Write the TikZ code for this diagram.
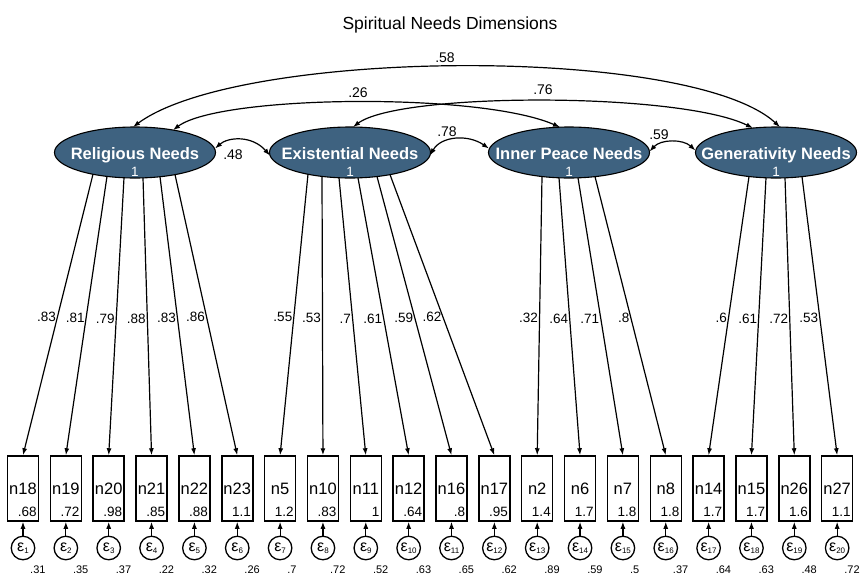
\documentclass[tikz,border=0pt]{standalone}
\usepackage{fontspec}
\setmainfont{Liberation Sans}
\usetikzlibrary{arrows.meta,calc,shapes.geometric}
\definecolor{latfill}{RGB}{62,98,128}
\newcommand{\fsz}[1]{\fontsize{#1}{#1}\selectfont}
\begin{document}
\begin{tikzpicture}[x=1pt,y=-1pt,
  lat/.style={ellipse,draw=black,line width=1.1pt,fill=latfill,minimum width=161pt,minimum height=51pt,inner sep=0pt},
  latname/.style={text=white,font=\fsz{16.5}\bfseries,anchor=base,inner sep=0pt},
  latone/.style={text=white,font=\fsz{13.5},anchor=base,inner sep=0pt},
  obs/.style={draw=black,line width=1.5pt,minimum width=31pt,minimum height=65pt,inner sep=0pt,font=\fsz{16.5}},
  val/.style={font=\fsz{13.5},anchor=base east,inner sep=0pt},
  err/.style={circle,draw=black,line width=1.3pt,minimum size=23.5pt,inner sep=0pt},
  evar/.style={font=\fsz{11},anchor=base west,inner sep=0pt},
  arr/.style={line width=1.2pt,-{Latex[length=7pt,width=5pt]}},
  cov/.style={line width=1.2pt,{Latex[length=7pt,width=5pt]}-{Latex[length=7pt,width=5pt]}},
  lbl/.style={font=\fsz{13.5},inner sep=1pt,anchor=east},
  clbl/.style={font=\fsz{14},inner sep=0pt}
]
\useasboundingbox (0,0) rectangle (861,576);

\node[font=\fsz{17.5}] (title) at (450,25) {Spiritual Needs Dimensions};

% latent variables
\node[lat] (rel) at (135,152.5) {};
\node[lat] (ex)  at (350,152.5) {};
\node[lat] (ip)  at (569,152.5) {};
\node[lat] (gen) at (776,152.5) {};
\foreach \nd/\tx in {rel/Religious Needs, ex/Existential Needs, ip/Inner Peace Needs, gen/Generativity Needs}{
  \node[latname] (\nd-name) at ($(\nd)+(0,7)$) {\tx};
  \node[latone] (\nd-one) at ($(\nd)+(0,23.5)$) {1};
}

% observed variables
\foreach \nm/\vl [count=\i from 0] in {n18/.68, n19/.72, n20/.98, n21/.85, n22/.88, n23/1.1, n5/1.2, n10/.83, n11/1, n12/.64, n16/.8, n17/.95, n2/1.4, n6/1.7, n7/1.8, n8/1.8, n14/1.7, n15/1.7, n26/1.6, n27/1.1}{
  \node[obs] (\nm) at ({23+42.85*\i},488.5) {\nm};
  \node[val] (\nm-v) at ($(\nm.south east)+(-2.5,-5)$) {\vl};
}

% error terms
\foreach \nm/\ev [count=\i from 1] in {n18/.31, n19/.35, n20/.37, n21/.22, n22/.32, n23/.26, n5/.7, n10/.72, n11/.52, n12/.63, n16/.65, n17/.62, n2/.89, n6/.59, n7/.5, n8/.37, n14/.64, n15/.63, n26/.48, n27/.72}{
  \node[err] (e\i) at ($(\nm)+(0,59.5)$) {\fsz{16}ε\raisebox{-2.5pt}{\fsz{8}\i}};
  \draw[arr] (e\i) -- (\nm);
  \node[evar] (ev\i) at ($(e\i)+(7,25.5)$) {\ev};
}

% loadings
\foreach \dx/\dy/\tg/\v in {-42/21.7/n18/.83, -28/23.9/n19/.81, -11/25.3/n20/.79, 8/25.4/n21/.88, 25/24.2/n22/.83, 40/22.1/n23/.86}
  \draw[arr] ($(rel)+(\dx,\dy)$) -- (\tg.north) node[lbl,pos=0.507]{\v};
\foreach \dx/\dy/\tg/\v in {-42/21.7/n5/.55, -28/23.9/n10/.53, -11/25.3/n11/.7, 8/25.4/n12/.61, 27/24.0/n16/.59, 40/22.1/n17/.62}
  \draw[arr] ($(ex)+(\dx,\dy)$) -- (\tg.north) node[lbl,pos=0.507]{\v};
\foreach \dx/\dy/\tg/\v in {-27/24.0/n2/.32, -10/25.3/n6/.64, 9/25.3/n7/.71, 26/24.1/n8/.8}
  \draw[arr] ($(ip)+(\dx,\dy)$) -- (\tg.north) node[lbl,pos=0.507]{\v};
\foreach \dx/\dy/\tg/\v in {-27/24.0/n14/.6, -10/25.3/n15/.61, 9/25.3/n26/.72, 26/24.1/n27/.53}
  \draw[arr] ($(gen)+(\dx,\dy)$) -- (\tg.north) node[lbl,pos=0.507]{\v};

% covariances
\draw[cov] ($(rel)+(-2,-25.5)$) .. controls (240,48) and (690,45) .. ($(gen)+(4,-25.5)$);
\node[clbl] (c58) at (445,58) {.58};
\draw[cov] ($(rel)+(38,-22.4)$) .. controls (220,95) and (480,92) .. ($(ip)+(-9,-25.3)$);
\node[clbl] (c26) at (358,93) {.26};
\draw[cov] ($(ex)+(3,-25.5)$) .. controls (400,92) and (680,92) .. ($(gen)+(-23,-24.4)$);
\node[clbl] (c76) at (543,90) {.76};
\draw[cov] ($(rel.east)+(-1,-4)$) .. controls (228,137) and (252,135) .. ($(ex.west)+(1,3)$);
\node[clbl] (c48) at (233,155) {.48};
\draw[cov] ($(ex.east)+(-1,3)$) .. controls (441,136) and (468,134) .. ($(ip.west)+(1,-4)$);
\node[clbl] (c78) at (447,132) {.78};
\draw[cov] ($(ip.east)+(-0.5,-1)$) .. controls (661,139) and (683,139) .. ($(gen.west)+(0.5,-2)$);
\node[clbl] (c59) at (659,135) {.59};
\end{tikzpicture}
\end{document}
